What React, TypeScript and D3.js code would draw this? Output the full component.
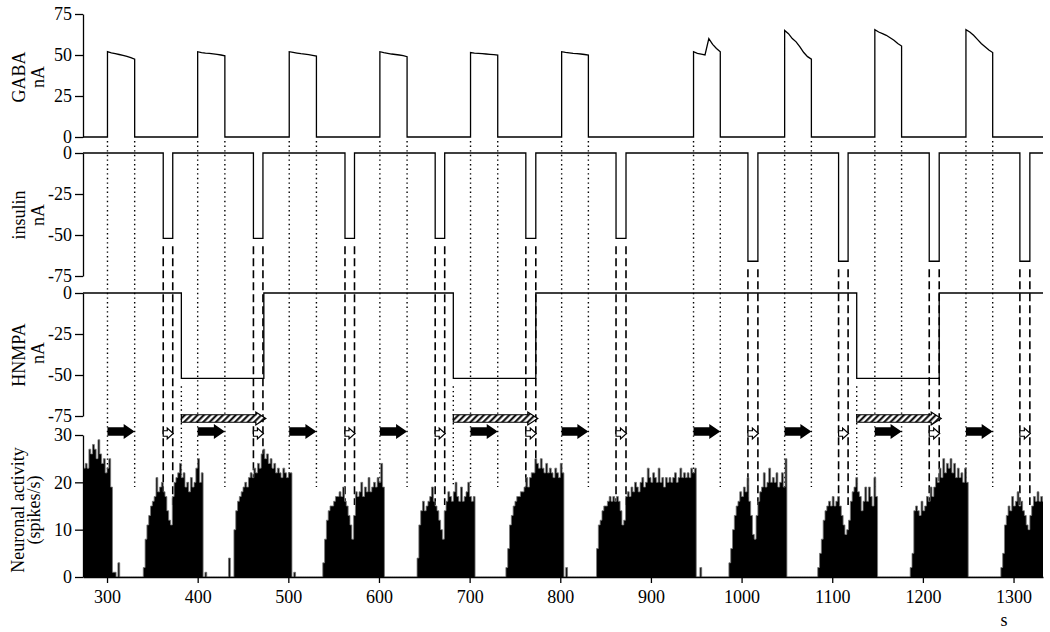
import React, { useRef, useEffect } from 'react';
import * as d3 from 'd3';

// stimulus timing, seconds
const gabaOn = [300.5, 400, 501, 601, 701, 801.5, 947, 1047.5, 1147, 1247.5];
const gabaOff = [330.5, 430, 531, 631, 731, 831, 976.5, 1077, 1176.5, 1277];
// current read across each GABA pulse (nA), evenly spaced from on to off
const gabaLevels = [
  [52, 51.3, 50.8, 50.3, 49.8, 49.2, 48.4, 47.5],
  [52, 51.5, 51.2, 51, 50.7, 50.4, 50, 49.5],
  [52, 51.6, 51.2, 50.8, 50.5, 50.2, 49.8, 49.3],
  [52, 51.4, 51, 50.6, 50.3, 50, 49.6, 49],
  [51.5, 51.2, 51, 50.8, 50.6, 50.4, 50.2, 50],
  [52, 51.6, 51.3, 51, 50.8, 50.6, 50.3, 50],
  [52, 51, 50.5, 50, 60, 56.5, 54, 52],
  [65, 63, 60, 58, 55, 51.5, 49, 47.5],
  [65.5, 64, 63, 62, 60.5, 59, 57, 55.5],
  [65.5, 64, 62, 59.5, 57, 55, 53, 51.5],
];

const insulinOn = [362, 461.5, 562.5, 662, 762, 861.5, 1007, 1107, 1207, 1307];
const insulinOff = [372.5, 472, 573, 672.5, 773, 872.5, 1018, 1117.5, 1218, 1318];
const insulinLevel = [-52, -52, -52, -52, -52, -52, -66, -66, -66, -66];

const hnmpaOn = [382, 682, 1127];
const hnmpaOff = [473, 773, 1218];
const hnmpaLevel = -52;

// neuronal activity (spikes/s), 2 s bins, one array per burst
const binWidth = 2;
const burstStart = [274, 340, 434, 538, 642, 740, 840, 986, 1084, 1186, 1286];
const burst1 = [23, 24, 23, 27, 26, 28, 27, 25, 29, 26, 24, 25, 22, 23, 25, 19, 1, 1, 0, 3];
const burst2 = [2, 8, 11, 13, 15, 16, 17, 21, 18, 19, 20, 18, 17, 14, 12, 11, 17, 20, 21, 22, 24, 21, 22, 19, 20, 18, 21, 19, 20, 23, 25, 20, 22, 0, 1];
const burst3 = [4, 0, 0, 10, 14, 16, 17, 18, 19, 20, 19, 21, 22, 21, 23, 22, 24, 23, 26, 27, 25, 26, 24, 25, 23, 24, 22, 23, 22, 21, 23, 22, 21, 22, 22, 0, 1];
const burst4 = [3, 8, 12, 14, 15, 15, 16, 17, 17, 18, 17, 19, 16, 15, 13, 11, 8, 13, 18, 17, 18, 20, 17, 19, 18, 21, 18, 19, 20, 19, 21, 20, 24, 19];
const burst5 = [4, 11, 14, 16, 14, 15, 16, 17, 19, 16, 15, 14, 12, 10, 8, 14, 16, 18, 17, 16, 18, 20, 17, 16, 19, 16, 17, 18, 20, 17, 16, 17];
const burst6 = [2, 6, 11, 13, 15, 16, 17, 17, 18, 18, 19, 21, 19, 21, 22, 22, 25, 24, 23, 25, 23, 22, 24, 22, 23, 22, 21, 23, 22, 21, 24, 22, 0, 2];
const burst7 = [6, 11, 12, 14, 15, 15, 16, 17, 16, 17, 16, 17, 16, 14, 11, 12, 17, 18, 17, 19, 18, 20, 19, 18, 20, 21, 19, 20, 23, 21, 20, 22, 21, 20, 23, 20, 21, 19, 21, 20, 21, 20, 21, 22, 20, 21, 23, 21, 22, 21, 22, 21, 23, 22, 23, 0, 0, 2];
const burst8 = [3, 6, 10, 13, 15, 16, 18, 17, 19, 18, 21, 16, 13, 9, 8, 13, 16, 18, 19, 22, 19, 20, 23, 20, 21, 20, 22, 19, 20, 22, 19, 25];
const burst9 = [2, 5, 8, 12, 14, 15, 16, 15, 17, 15, 16, 17, 15, 13, 11, 9, 10, 12, 16, 18, 19, 21, 18, 17, 14, 16, 19, 16, 19, 17, 15, 21, 17];
const burst10 = [2, 5, 14, 15, 14, 13, 16, 14, 15, 17, 16, 19, 17, 19, 21, 20, 23, 21, 25, 22, 24, 23, 25, 22, 24, 21, 23, 21, 22, 20, 23, 20];
const burst11 = [2, 5, 11, 13, 15, 14, 17, 15, 16, 18, 15, 16, 14, 13, 11, 10, 13, 15, 17, 16, 18, 16, 17, 16];
const bursts = [burst1, burst2, burst3, burst4, burst5, burst6, burst7, burst8, burst9, burst10, burst11];

const timeTicks = [300, 400, 500, 600, 700, 800, 900, 1000, 1100, 1200, 1300];
const gabaTicks = [0, 25, 50, 75];
const currentTicks = [0, -25, -50, -75];
const activityTicks = [0, 10, 20, 30];

const FONT = '"Liberation Serif", "Times New Roman", serif';

function arrowPath(x0: number, x1: number, yc: number, bh: number, hh: number, hl: number) {
  const xb = x1 - hl;
  return `M${x0},${yc - bh / 2}H${xb}V${yc - hh / 2}L${x1},${yc}L${xb},${yc + hh / 2}V${yc + bh / 2}H${x0}Z`;
}

export default function App() {
  const ref = useRef<SVGSVGElement>(null);

  useEffect(() => {
    const svg = d3.select(ref.current);
    svg.selectAll('*').remove();

    const x = d3.scaleLinear().domain([273.5, 1332.5]).range([83, 1043]);
    const yG = d3.scaleLinear().domain([0, 75]).range([137, 14]);
    const yI = d3.scaleLinear().domain([-75, 0]).range([276, 153]);
    const yH = d3.scaleLinear().domain([-75, 0]).range([416, 293]);
    const yN = d3.scaleLinear().domain([0, 30]).range([577, 435]);
    const [t0, t1] = x.domain();

    const defs = svg.append('defs');
    defs.append('clipPath').attr('id', 'plot')
      .append('rect').attr('x', 83).attr('y', 0).attr('width', 960).attr('height', 632);
    const pat = defs.append('pattern').attr('id', 'hatch')
      .attr('patternUnits', 'userSpaceOnUse')
      .attr('width', 4.5).attr('height', 4.5)
      .attr('patternTransform', 'rotate(45)');
    pat.append('rect').attr('width', 4.5).attr('height', 4.5).attr('fill', '#fff');
    pat.append('line').attr('x1', 1.2).attr('x2', 1.2).attr('y1', 0).attr('y2', 4.5)
      .attr('stroke', '#000').attr('stroke-width', 2);

    const plot = svg.append('g').attr('clip-path', 'url(#plot)');

    // guide lines
    const guides = plot.append('g').attr('stroke', '#000').attr('fill', 'none');
    gabaOn.concat(gabaOff).forEach(t => {
      guides.append('line')
        .attr('x1', x(t)).attr('x2', x(t))
        .attr('y1', yG(0) + 4).attr('y2', 487)
        .attr('stroke-width', 1.4).attr('stroke-dasharray', '1.4,3.2');
    });
    hnmpaOn.forEach(t => {
      guides.append('line')
        .attr('x1', x(t)).attr('x2', x(t))
        .attr('y1', yH(hnmpaLevel) + 8).attr('y2', 487)
        .attr('stroke-width', 1.4).attr('stroke-dasharray', '1.4,3.2');
    });
    insulinOn.forEach((on, i) => {
      [on, insulinOff[i]].forEach(t => {
        guides.append('line')
          .attr('x1', x(t)).attr('x2', x(t))
          .attr('y1', yI(insulinLevel[i]) + 8).attr('y2', 505)
          .attr('stroke-width', 1.6).attr('stroke-dasharray', '8,4');
      });
    });

    // neuronal activity histogram
    const nBins = Math.ceil((t1 - t0) / binWidth) + 2;
    const activity = d3.range(nBins).map(i => ({ t: 274 + i * binWidth, v: 0 }));
    bursts.forEach((b, k) => {
      b.forEach((v, j) => {
        const idx = Math.round((burstStart[k] + j * binWidth - 274) / binWidth);
        if (activity[idx]) activity[idx].v = v;
      });
    });
    const area = d3.area<{ t: number; v: number }>()
      .x(d => x(d.t)).y0(yN(0)).y1(d => yN(d.v))
      .curve(d3.curveStepAfter);
    const top = d3.line<{ t: number; v: number }>()
      .x(d => x(d.t)).y(d => yN(d.v))
      .curve(d3.curveStepAfter);
    plot.append('path').datum(activity).attr('d', area).attr('fill', '#000');
    plot.append('path').datum(activity).attr('d', top)
      .attr('fill', 'none').attr('stroke', '#777').attr('stroke-width', 0.8);

    // current traces
    const trace = d3.line<[number, number]>();
    const gabaPts: [number, number][] = [[t0, 0]];
    gabaOn.forEach((on, i) => {
      const off = gabaOff[i];
      const lv = gabaLevels[i];
      gabaPts.push([on, 0]);
      lv.forEach((v, j) => gabaPts.push([on + (off - on) * j / (lv.length - 1), v]));
      gabaPts.push([off, 0]);
    });
    gabaPts.push([t1, 0]);

    const insPts: [number, number][] = [[t0, 0]];
    insulinOn.forEach((on, i) => {
      insPts.push([on, 0], [on, insulinLevel[i]], [insulinOff[i], insulinLevel[i]], [insulinOff[i], 0]);
    });
    insPts.push([t1, 0]);

    const hnPts: [number, number][] = [[t0, 0]];
    hnmpaOn.forEach((on, i) => {
      hnPts.push([on, 0], [on, hnmpaLevel], [hnmpaOff[i], hnmpaLevel], [hnmpaOff[i], 0]);
    });
    hnPts.push([t1, 0]);

    const traces = plot.append('g').attr('fill', 'none').attr('stroke', '#000').attr('stroke-width', 1.3);
    traces.append('path').attr('d', trace(gabaPts.map(([t, v]) => [x(t), yG(v)])));
    traces.append('path').attr('d', trace(insPts.map(([t, v]) => [x(t), yI(v)])));
    traces.append('path').attr('d', trace(hnPts.map(([t, v]) => [x(t), yH(v)])));

    // arrows
    const arrows = plot.append('g');
    gabaOn.forEach((on, i) => {
      arrows.append('path').attr('d', arrowPath(x(on), x(gabaOff[i]), 431.5, 8.5, 15, 11)).attr('fill', '#000');
    });
    insulinOn.forEach((on, i) => {
      arrows.append('path').attr('d', arrowPath(x(on), x(insulinOff[i]) + 0.5, 433.5, 5.5, 11, 6))
        .attr('fill', '#fff').attr('stroke', '#000').attr('stroke-width', 1.2);
    });
    hnmpaOn.forEach((on, i) => {
      arrows.append('path').attr('d', arrowPath(x(on), x(hnmpaOff[i]) + 2, 418.5, 7.5, 13, 10))
        .attr('fill', 'url(#hatch)').attr('stroke', '#000').attr('stroke-width', 1.2);
    });

    // axes
    const styleAxis = (g: d3.Selection<SVGGElement, unknown, null, undefined>) => {
      g.attr('font-family', FONT).attr('font-size', 18);
      g.selectAll('path, line').attr('stroke', '#000').attr('stroke-width', 1.3);
      g.selectAll('text').attr('fill', '#000');
    };
    const leftAxis = (scale: d3.ScaleLinear<number, number>, ticks: number[]) => {
      svg.append('g').attr('transform', 'translate(83,0)')
        .call(d3.axisLeft(scale).tickValues(ticks).tickSize(8).tickSizeOuter(0).tickPadding(3)
          .tickFormat(d => String(d)))
        .call(styleAxis);
    };
    leftAxis(yG, gabaTicks);
    leftAxis(yI, currentTicks);
    leftAxis(yH, currentTicks);
    leftAxis(yN, activityTicks);

    svg.append('g').attr('transform', `translate(0,${yN(0)})`)
      .call(d3.axisBottom(x).tickValues(timeTicks).tickSize(6).tickSizeOuter(0).tickPadding(7)
        .tickFormat(d => String(d)))
      .call(styleAxis);

    svg.append('text').attr('x', 1004).attr('y', 626)
      .attr('text-anchor', 'middle').attr('font-family', FONT).attr('font-size', 18)
      .text('s');

    // panel labels
    const labels: [string, number, number][] = [
      ['GABA', 25, 77], ['nA', 44, 77],
      ['insulin', 25, 215], ['nA', 44, 215],
      ['HNMPA', 25, 355], ['nA', 44, 353],
      ['Neuronal activity', 24, 510], ['(spikes/s)', 40, 510],
    ];
    labels.forEach(([txt, lx, ly]) => {
      svg.append('text')
        .attr('transform', `translate(${lx},${ly}) rotate(-90)`)
        .attr('text-anchor', 'middle')
        .attr('font-family', FONT).attr('font-size', 18)
        .text(txt);
    });
  }, []);

  return (
    <svg
      ref={ref}
      width={1050}
      height={632}
      style={{ position: 'absolute', left: 0, top: 0, background: '#fff', display: 'block' }}
    />
  );
}
